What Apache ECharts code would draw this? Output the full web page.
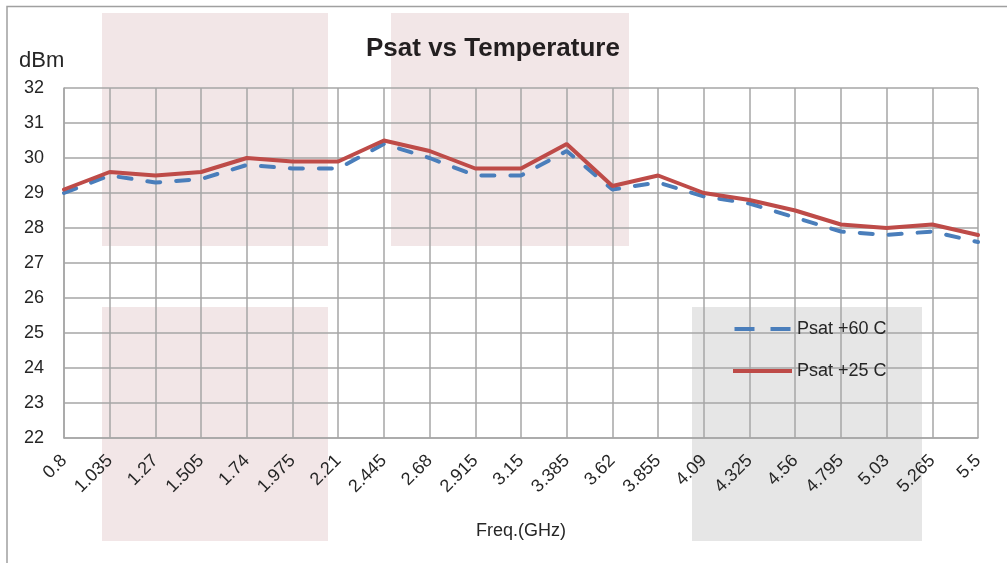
<!DOCTYPE html>
<html>
  <head>
    <meta charset="utf-8" />
    <title>Psat vs Temperature</title>
    <style>
      body {
        margin: 0;
        padding: 0;
      }
      #chart {
        width: 1007px;
        height: 563px;
      }
    </style>
    <script src="https://cdn.jsdelivr.net/npm/echarts@6/dist/echarts.min.js"></script>
  </head>

  <body>
    <div id="chart"></div>
  </body>
  <script>
    // data
    const freqs = [
      "0.8", "1.035", "1.27", "1.505", "1.74", "1.975", "2.21", "2.445",
      "2.68", "2.915", "3.15", "3.385", "3.62", "3.855", "4.09", "4.325",
      "4.56", "4.795", "5.03", "5.265", "5.5",
    ];
    const psat60 = [
      29.0, 29.5, 29.3, 29.4, 29.8, 29.7, 29.7, 30.4, 30.0, 29.5, 29.5,
      30.2, 29.1, 29.3, 28.9, 28.7, 28.3, 27.9, 27.8, 27.9, 27.6,
    ];
    const psat25 = [
      29.1, 29.6, 29.5, 29.6, 30.0, 29.9, 29.9, 30.5, 30.2, 29.7, 29.7,
      30.4, 29.2, 29.5, 29.0, 28.8, 28.5, 28.1, 28.0, 28.1, 27.8,
    ];

    const font = "Liberation Sans";
    const textColor = "#262626";
    const gridColor = "#a6a6a6";
    const blue = "#4a7ebb";
    const red = "#be4b48";

    // background blocks behind the plot
    function block(x, y, w, h, color) {
      return {
        type: "rect",
        z: -10,
        shape: { x: x, y: y, width: w, height: h },
        style: { fill: color },
        silent: true,
      };
    }

    const option = {
      backgroundColor: "#fff",
      animation: false,
      title: {
        text: "Psat vs Temperature",
        left: 361,
        top: 31,
        textStyle: {
          fontFamily: font,
          fontSize: 26,
          fontWeight: "bold",
          color: "#231f20",
        },
      },
      graphic: [
        block(102, 13, 226, 233, "#f2e6e7"),
        block(391, 13, 238, 233, "#f2e6e7"),
        block(102, 307, 226, 234, "#f2e6e7"),
        block(692, 307, 230, 234, "#e6e6e6"),
        {
          type: "polyline",
          z: -5,
          shape: { points: [[7, 570], [7, 6.5], [1007, 6.5]] },
          style: { stroke: "#a0a0a0", lineWidth: 1.5, fill: null },
          silent: true,
        },
        {
          type: "text",
          left: 19,
          top: 50,
          style: {
            text: "dBm",
            font: "22px " + font,
            fill: textColor,
          },
        },
      ],
      legend: {
        orient: "vertical",
        left: 728,
        top: 315,
        itemWidth: 59,
        itemHeight: 4,
        itemGap: 24,
        textStyle: {
          fontFamily: font,
          fontSize: 18,
          lineHeight: 18,
          color: textColor,
        },
        data: [
          {
            name: "Psat +60 C",
            icon: "path://M0,0h20v4h-20z M36,0h20v4h-20z",
            itemStyle: { color: blue, opacity: 1 },
          },
          {
            name: "Psat +25 C",
            icon: "rect",
            itemStyle: { color: red },
          },
        ],
      },
      grid: {
        left: 64,
        right: 29,
        top: 88,
        bottom: 125,
      },
      xAxis: {
        type: "category",
        data: freqs,
        boundaryGap: false,
        name: "Freq.(GHz)",
        nameLocation: "middle",
        nameGap: 84,
        nameTextStyle: { fontFamily: font, fontSize: 18, color: textColor },
        axisLine: { lineStyle: { color: gridColor, width: 1.5 } },
        axisTick: { show: false },
        axisLabel: {
          rotate: 45,
          margin: 20,
          interval: 0,
          fontFamily: font,
          fontSize: 18,
          color: textColor,
        },
        splitLine: {
          show: true,
          lineStyle: { color: gridColor, width: 1.5 },
        },
      },
      yAxis: {
        type: "value",
        min: 22,
        max: 32,
        interval: 1,
        axisLine: { show: true, lineStyle: { color: gridColor, width: 1.5 } },
        axisTick: { show: false },
        axisLabel: {
          margin: 20,
          fontFamily: font,
          fontSize: 18,
          color: textColor,
        },
        splitLine: { lineStyle: { color: gridColor, width: 1.5 } },
      },
      series: [
        {
          name: "Psat +60 C",
          type: "line",
          data: psat60,
          symbol: "none",
          z: 3,
          lineStyle: {
            color: blue,
            width: 4,
            type: [13, 16],
            cap: "round",
          },
          itemStyle: { color: blue },
        },
        {
          name: "Psat +25 C",
          type: "line",
          data: psat25,
          symbol: "none",
          z: 4,
          lineStyle: { color: red, width: 4, cap: "round" },
          itemStyle: { color: red },
        },
      ],
    };

    const myChart = echarts.init(document.getElementById("chart"));
    myChart.setOption(option);
  </script>
</html>
